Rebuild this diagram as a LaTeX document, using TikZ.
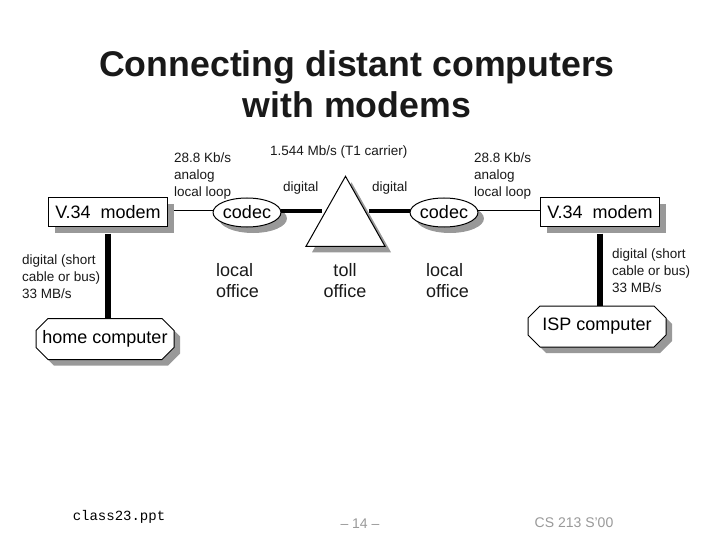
\documentclass[tikz,border=0pt]{standalone}
\usepackage{fontspec}
\setmainfont{Liberation Sans}
\newfontfamily\courierfont{Liberation Mono}
\usetikzlibrary{positioning}
\usetikzlibrary{shadows}
\usetikzlibrary{shapes.geometric}
\definecolor{mgray}{rgb}{0.6, 0.6, 0.6}
\definecolor{mtext}{rgb}{0.1, 0.1, 0.1}
\tikzset{castshadow/.style = {drop shadow={shadow xshift=6pt, shadow yshift=-6pt, fill=mgray, opacity=1}},
         modembox/.style = {draw, fill=white, castshadow, line width=1pt, inner sep=0pt,
                            minimum width=119pt, minimum height=29pt, font=\fontsize{18}{21}\selectfont},
         codecoval/.style = {ellipse, draw, fill=white, castshadow, line width=1pt, inner sep=0pt,
                             minimum width=60pt, minimum height=29pt, font=\fontsize{18}{21}\selectfont},
         hostedge/.style = {draw, fill=white, castshadow, line width=1pt},
         hostbox/.style = {inner sep=0pt, minimum width=138pt, minimum height=41pt, font=\fontsize{18}{21}\selectfont},
         tollshape/.style = {isosceles triangle, isosceles triangle stretches, shape border rotate=90,
                             draw, fill=white, castshadow, line width=1pt, inner sep=0pt,
                             minimum width=79pt, minimum height=70pt},
         smalllabel/.style = {anchor=west, align=left, inner sep=0pt, text=mtext, font=\fontsize{13.5}{17}\selectfont},
         officelabel/.style = {align=left, inner sep=0pt, text=mtext, font=\fontsize{18}{21}\selectfont},
         footlabel/.style = {inner sep=0pt, text=mgray, font=\fontsize{14}{17}\selectfont},
         thinlink/.style = {line width=1pt},
         widelink/.style = {line width=3.5pt},
         buslink/.style = {line width=6pt}}
\newcommand{\hostoutline}[2]{\path [hostedge, shift={(#1, #2)}] (-57, -20.5) -- (57, -20.5) -- (69, -8.5) -- (69, 8.5) -- (57, 20.5) -- (-57, 20.5) -- (-69, 8.5) -- (-69, -8.5) -- cycle;}

\begin{document}
\begin{tikzpicture}[x=1pt, y=-1pt]
      \useasboundingbox (0, 0) rectangle (720, 540);

      \node [font=\fontsize{35.7}{41}\bfseries\selectfont, align=center, text=mtext] (title) at (357, 84) {Connecting distant computers\\with modems};

      \hostoutline{105}{339}
      \hostoutline{597}{326.5}

      \node [modembox] (modemleft) at (108, 212.5) {V.34\ \ modem};
      \node [modembox] (modemright) at (600, 212.5) {V.34\ \ modem};
      \node [codecoval] (codecleft) at (247, 212.5) {codec};
      \node [codecoval] (codecright) at (444, 212.5) {codec};
      \node [tollshape, anchor=apex] (toll) at (345.5, 175) {};
      \node [hostbox] (home) at (105, 339) {home computer};
      \node [hostbox] (isp) at (597, 326.5) {ISP computer};

      \draw [thinlink, shorten <=6pt] (modemleft.east |- toll.left side) -- (codecleft.west |- toll.left side);
      \draw [thinlink] (codecright.east |- toll.right side) -- (modemright.west |- toll.right side);
      \draw [widelink, shorten >=3pt] (codecleft.east |- toll.left side) -- (toll.left side);
      \draw [widelink, shorten >=3pt] (codecright.west |- toll.right side) -- (toll.right side);
      \draw [buslink, shorten <=6pt] (modemleft.south) -- (home.north -| modemleft.south);
      \draw [buslink, shorten <=6pt] (modemright.south) -- (isp.north -| modemright.south);

      \node [smalllabel] (loopleft) at (174, 176) {28.8 Kb/s\\analog\\local loop};
      \node [smalllabel] (loopright) at (474, 176) {28.8 Kb/s\\analog\\local loop};
      \node [smalllabel] (carrier) at (270, 152) {1.544 Mb/s (T1 carrier)};
      \node [smalllabel] (digitalleft) at (283, 188) {digital};
      \node [smalllabel] (digitalright) at (372, 188) {digital};
      \node [smalllabel] (busleft) at (22, 277) {digital (short\\cable or bus)\\33 MB/s};
      \node [smalllabel] (busright) at (612, 271) {digital (short\\cable or bus)\\33 MB/s};

      \node [officelabel, anchor=west] (officeleft) at (216, 281) {local\\office};
      \node [officelabel, align=center] (officemid) at (345, 281) {toll\\office};
      \node [officelabel, anchor=west] (officeright) at (426, 281) {local\\office};

      \node [footlabel, text=black, font=\fontsize{14}{17}\courierfont\selectfont] (filename) at (119, 517) {class23.ppt};
      \node [footlabel] (pagenum) at (360, 524) {-- 14 --};
      \node [footlabel] (course) at (574, 523) {CS 213 S'00};
    \end{tikzpicture}
\end{document}
